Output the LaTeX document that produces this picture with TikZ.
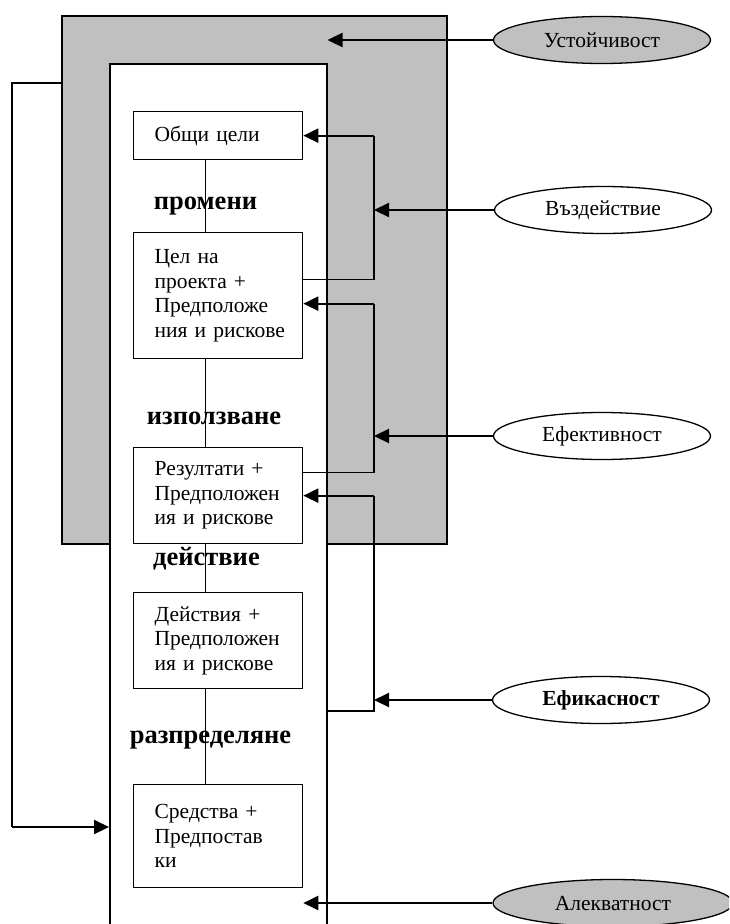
\documentclass[tikz,border=0pt]{standalone}
\usepackage{fontspec}
\setmainfont{Liberation Serif}
\usetikzlibrary{shapes.geometric, arrows.meta}
\definecolor{sivo}{RGB}{192,192,192}
\hyphenpenalty=10000

\begin{document}
\begin{tikzpicture}[x=1pt, y=-1pt, every node/.style={inner sep=0pt},
    kutia/.style={draw, line width=1.3pt, fill=white, anchor=north west, minimum width=169pt, text width=127pt, inner xsep=21pt, align=left, font=\fontsize{21.5}{24.5}\selectfont},
    etap/.style={anchor=base, font=\fontsize{26.5}{30}\selectfont\bfseries},
    kriterii/.style={ellipse, draw, line width=1.3pt, minimum width=217pt, minimum height=47pt, font=\fontsize{21.5}{24.5}\selectfont},
    vruzka/.style={line width=1.3pt},
    strelka/.style={line width=2.2pt, -{Triangle[length=15pt, width=14pt]}}]
        \useasboundingbox (0,0) rectangle (729,924);
        \clip (0,0) rectangle (729,924);

        % Рамки
        \node[draw, line width=1.5pt, fill=sivo, anchor=north west, minimum width=385pt, minimum height=528pt] (ustoich) at (61,15) {};
        \node[draw, line width=1.5pt, fill=white, anchor=north west, minimum width=217pt, minimum height=900pt] (ramka) at (109,63) {};

        % Кутии
        \node[kutia, minimum height=48pt] (obshti) at (133,111) {Общи цели};
        \node[kutia, minimum height=126pt] (cel) at (133,232) {Цел на\\проекта +\\Предположе\\ния~и~рискове};
        \node[kutia, minimum height=96pt] (rezultati) at (133,447) {Резултати +\\Предположен\\ия~и~рискове};
        \node[kutia, minimum height=96pt] (deistvia) at (133,592) {Действия +\\Предположен\\ия~и~рискове};
        \node[kutia, minimum height=103pt] (sredstva) at (133,784) {Средства +\\Предпостав\\ки};

        \draw[vruzka] ([xshift=-12.5pt]obshti.south) -- ([xshift=-12.5pt]cel.north);
        \draw[vruzka] ([xshift=-12.5pt]cel.south) -- ([xshift=-12.5pt]rezultati.north);
        \draw[vruzka] ([xshift=-12.5pt]rezultati.south) -- ([xshift=-12.5pt]deistvia.north);
        \draw[vruzka] ([xshift=-12.5pt]deistvia.south) -- ([xshift=-12.5pt]sredstva.north);

        % Етапи
        \node[etap] (promeni) at (205.5,209) {промени};
        \node[etap] (izpolzvane) at (214,424) {използване};
        \node[etap] (deistvie) at (206.5,565) {действие};
        \node[etap] (razpredelyane) at (210.5,743) {разпределяне};

        % Критерии
        \node[kriterii, fill=sivo] (ustoichivost) at (602,40) {Устойчивост};
        \node[kriterii] (vazdeistvie) at (603,210) {Въздействие};
        \node[kriterii] (efektivnost) at (602,436) {Ефективност};
        \node[kriterii] (efikasnost) at (601,700) {\textbf{Ефикасност}};
        \node[kriterii, fill=sivo, minimum width=240pt] (adekvatnost) at (613,903) {Алекватност};

        \coordinate (skoba) at (374,0);
        \coordinate (celvhod) at ([yshift=-8pt]cel.east);
        \coordinate (celizhod) at ([yshift=16pt]cel.east);
        \coordinate (rezizhod) at ([yshift=23pt]rezultati.east);
        \coordinate (ramkaizhod) at ([yshift=-648pt]ramka.north east);
        \coordinate (obratna) at (12,827);

        \draw[strelka] (ustoichivost.west) -- (ramka.east |- ustoichivost.west);
        \draw[strelka] (vazdeistvie.west) -- (skoba |- vazdeistvie.west);
        \draw[strelka] (efektivnost.west) -- (skoba |- efektivnost.west);
        \draw[strelka] (efikasnost.west) -- (skoba |- efikasnost.west);
        \draw[strelka] (adekvatnost.west) -- (obshti.east |- adekvatnost.west);

        \draw[vruzka] (celizhod) -| (skoba |- obshti.east);
        \draw[strelka] (skoba |- obshti.east) -- (obshti.east);
        \draw[vruzka] (rezizhod) -| (skoba |- celvhod);
        \draw[strelka] (skoba |- celvhod) -- (celvhod);
        \draw[vruzka] (ramkaizhod) -| (skoba |- rezultati.east);
        \draw[strelka] (skoba |- rezultati.east) -- (rezultati.east);

        % Обратна връзка
        \draw[vruzka] ([yshift=-68pt]ustoich.north west) -| (obratna);
        \draw[strelka] (obratna) -- (ramka.west |- obratna);
    \end{tikzpicture}
\end{document}
